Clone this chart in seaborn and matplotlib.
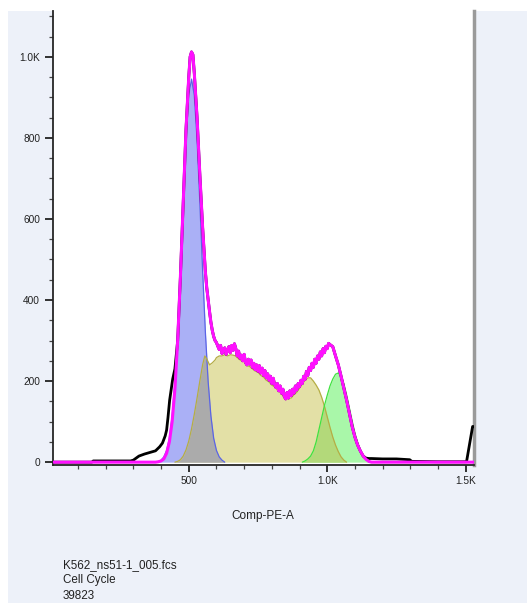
import numpy as np
import pandas as pd
import matplotlib
matplotlib.use("Agg")
import matplotlib.pyplot as plt
from matplotlib.patches import Rectangle
from matplotlib.ticker import MultipleLocator, FixedLocator
import seaborn as sns

# ---------------- data ----------------
# G1 component (blue)
g1_x = [390, 400, 410, 420, 430, 440, 450, 460, 470, 480, 490, 500, 510, 520, 530, 540,
        550, 560, 570, 580, 590, 600, 610, 620, 630]
g1_y = [0, 5, 13, 29, 59, 114, 199, 321, 474, 641, 795, 905, 945, 905, 795, 641,
        474, 321, 199, 114, 59, 29, 13, 5, 0]

# S-phase component (yellow)
s_x = [450, 460, 470, 480, 490, 500, 510, 520, 530, 540, 550, 558, 565, 575, 585, 595,
       600, 610, 620, 630, 640, 650, 660, 670, 680, 690, 700, 710, 720, 730, 740, 750,
       760, 770, 780, 790, 800, 810, 820, 830, 840, 850, 860, 870, 880, 890, 900, 910,
       920, 930, 940, 950, 960, 970, 980, 990, 1000, 1010, 1020, 1030, 1040, 1050, 1060, 1070]
s_y = [0, 2, 6, 15, 30, 52, 82, 118, 158, 200, 240, 262, 255, 240, 245, 252,
       258, 262, 262, 265, 262, 265, 264, 262, 255, 250, 248, 238, 236, 230, 225, 222,
       214, 210, 202, 198, 190, 186, 178, 172, 164, 156, 158, 158, 166, 172, 182, 192,
       202, 208, 208, 200, 190, 178, 160, 138, 112, 86, 62, 42, 26, 13, 5, 0]

# G2 component (green)
g2_x = [910, 920, 930, 940, 950, 960, 970, 980, 990, 1000, 1010, 1020, 1030, 1040, 1050,
        1060, 1070, 1080, 1090, 1100, 1110, 1120, 1130, 1140, 1150]
g2_y = [0, 3, 8, 15, 28, 50, 80, 110, 140, 165, 188, 205, 217, 220, 212,
        194, 166, 134, 102, 72, 48, 30, 16, 6, 0]

# model total (magenta)
fit_x = [8, 380, 390, 400, 410, 420, 430, 440, 450, 460, 470, 480, 490, 500, 505, 510, 515,
         520, 530, 540, 550,
         560, 565, 570, 575, 580, 585, 590, 595, 600, 605, 610, 615, 620, 625, 630, 635,
         640, 645, 650, 655, 660, 665, 670, 675, 680, 685, 690, 695, 700, 705, 710, 715,
         720, 725, 730, 735, 740, 745, 750, 755, 760, 765, 770, 775, 780, 785, 790, 795,
         800, 805, 810, 815, 820, 825, 830, 835, 840, 845, 850, 855, 860, 865, 870, 875,
         880, 885, 890, 895, 900, 905, 910, 915, 920, 925, 930, 935, 940, 945, 950, 955,
         960, 965, 970, 975, 980, 985, 990, 995, 1000, 1005, 1010,
         1020, 1030, 1040, 1050, 1060, 1070, 1080, 1090, 1100, 1110, 1120,
         1130, 1140, 1150, 1160, 1528]
fit_y = [0, 0, 1, 3, 8, 22, 50, 100, 180, 300, 460, 640, 820, 950, 1000, 1012, 1005,
         960, 850, 710, 580,
         470, 430, 400, 372, 345, 325, 310, 300, 295, 286, 278, 288, 268, 278, 282, 266,
         276, 285, 270, 288, 276, 292, 280, 262, 274, 256, 264, 250, 266, 246, 240, 254,
         242, 252, 234, 244, 228, 240, 224, 238, 220, 232, 214, 226, 208, 218, 202, 212,
         194, 207, 192, 184, 194, 176, 188, 170, 180, 162, 156, 172, 158, 176, 164, 180,
         170, 188, 178, 194, 186, 202, 194, 212, 204, 224, 214, 234, 226, 244, 234, 254,
         244, 262, 254, 272, 262, 280, 270, 286, 280, 293, 290,
         285, 262, 240, 212, 182, 153, 120, 88, 62, 42, 27,
         15, 7, 2, 0, 0]

# raw histogram (black): left shoulder and right tail; the middle follows the fit
raw_left_x = [8, 150, 155, 290, 300, 320, 340, 360, 380, 395, 405, 415, 420, 425, 431, 442, 450]
raw_left_y = [0, 0, 3, 3, 5, 15, 20, 24, 28, 38, 47, 65, 79, 110, 153, 205, 230]
raw_right_x = [1140, 1150, 1160, 1200, 1250, 1298, 1305, 1400, 1497, 1503, 1525, 1528]
raw_right_y = [10, 9, 9, 8, 8, 6, 2, 1, 1, 1, 88, 88]

x_ticks = [500, 1000, 1500]
x_ticklabels = ["500", "1.0K", "1.5K"]
y_ticks = [0, 200, 400, 600, 800, 1000]
y_ticklabels = ["0", "200", "400", "600", "800", "1.0K"]
x_label = "Comp-PE-A"
info_lines = ["K562_ns51-1_005.fcs", "Cell Cycle", "39823"]

# ---------------- figure ----------------
sns.set_style("ticks")
plt.rcParams["font.family"] = ["Liberation Sans", "DejaVu Sans"]

W, H = 527, 603
fig = plt.figure(figsize=(W / 100, H / 100), dpi=100, facecolor="white")
bg = Rectangle((8 / W, 0), 1, (H - 11) / H, transform=fig.transFigure,
               facecolor="#edf1f9", edgecolor="none", zorder=-10)
fig.add_artist(bg)

ax_l, ax_r, ax_t, ax_b = 52.5, 474, 11, 465
ax = fig.add_axes([ax_l / W, 1 - ax_b / H, (ax_r - ax_l) / W, (ax_b - ax_t) / H])
ax.set_zorder(1)
ax.set_facecolor("white")

# common grid to draw the overlap regions
grid = np.arange(380, 1161, 2)
g1_i = np.interp(grid, g1_x, g1_y, left=0, right=0)
s_i = np.interp(grid, s_x, s_y, left=0, right=0)
g2_i = np.interp(grid, g2_x, g2_y, left=0, right=0)

ax.fill_between(g1_x, 0, g1_y, color="#aab0f6", lw=0, zorder=2)
ax.fill_between(s_x, 0, s_y, color="#e3e0a6", lw=0, zorder=2)
ax.fill_between(g2_x, 0, g2_y, color="#a9f7a9", lw=0, zorder=2)
ax.fill_between(grid, 0, np.minimum(g1_i, s_i), color="#ababab", lw=0, zorder=3)
ax.fill_between(grid, 0, np.minimum(g2_i, s_i), color="#b3d97a", lw=0, zorder=3)

comp = pd.DataFrame({"x": g1_x, "y": g1_y})
sns.lineplot(data=comp, x="x", y="y", ax=ax, color="#5a64e6", lw=0.9, zorder=4, sort=False)
comp = pd.DataFrame({"x": s_x, "y": s_y})
sns.lineplot(data=comp, x="x", y="y", ax=ax, color="#b5ad45", lw=0.9, zorder=4, sort=False)
comp = pd.DataFrame({"x": g2_x, "y": g2_y})
sns.lineplot(data=comp, x="x", y="y", ax=ax, color="#3fe23f", lw=0.9, zorder=4, sort=False)

mid = [(x, y) for x, y in zip(fit_x, fit_y) if 450 < x < 1140]
raw_x = raw_left_x + [m[0] for m in mid] + raw_right_x
raw_y = raw_left_y + [m[1] for m in mid] + raw_right_y
raw = pd.DataFrame({"x": raw_x, "y": raw_y})
sns.lineplot(data=raw, x="x", y="y", ax=ax, color="black", lw=2.0, zorder=5, sort=False)

fit = pd.DataFrame({"x": fit_x, "y": fit_y})
sns.lineplot(data=fit, x="x", y="y", ax=ax, color="#ff10ff", lw=2.2, zorder=6, sort=False)

# axes scales
ax.set_xlim(8, 1530)
ax.set_ylim(-7, 1113)
ax.xaxis.set_major_locator(FixedLocator(x_ticks))
ax.set_xticklabels(x_ticklabels)
ax.yaxis.set_major_locator(FixedLocator(y_ticks))
ax.set_yticklabels(y_ticklabels)
ax.xaxis.set_minor_locator(MultipleLocator(100))
ax.yaxis.set_minor_locator(MultipleLocator(50))
ax.tick_params(axis="both", which="major", direction="out", length=6, width=1.3,
               labelsize=7.3, pad=3, color="#222222", labelcolor="#222222")
ax.tick_params(axis="both", which="minor", direction="out", length=3, width=0.9,
               color="#444444")
ax.tick_params(axis="x", which="major", length=5, pad=3)

ax.set_xlabel(x_label, fontsize=8.5, labelpad=17, color="#222222")
ax.set_ylabel("")

ax.spines["top"].set_visible(False)
ax.spines["left"].set_linewidth(1.3)
ax.spines["bottom"].set_linewidth(1.3)
ax.spines["right"].set_visible(True)
ax.spines["right"].set_color("#9a9a9a")
ax.spines["right"].set_linewidth(2.5)

# info text at the bottom
for i, line in enumerate(info_lines):
    fig.text(63 / W, 1 - (565 + i * 15.5) / H, line, fontsize=8.4, ha="left", va="center",
             color="#222222")

fig.savefig("out.png", dpi=100, facecolor=fig.get_facecolor())
